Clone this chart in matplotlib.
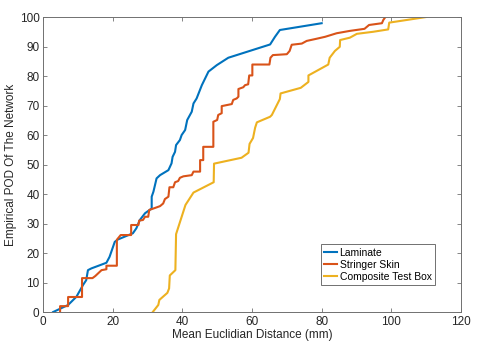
import matplotlib
matplotlib.use("Agg")
import matplotlib.pyplot as plt

plt.rcParams["font.family"] = ["Liberation Sans", "DejaVu Sans"]

# Laminate
lam_x = [2.9, 7.2, 9.6, 11.5, 12.4, 12.9, 13.9, 18.2, 19.1, 20.1, 20.6, 21.5,
         25.8, 26.8, 27.8, 29.3, 31.2, 31.2, 31.7, 32.6, 33.6, 36.0, 36.9, 37.2,
         37.9, 38.2, 39.3, 39.8, 40.8, 41.4, 42.7, 43.2, 44.1, 45.6, 47.5, 49.9,
         53.2, 65.2, 66.6, 68.0, 80.0]
lam_y = [0, 2.4, 5.2, 9.2, 10.8, 14.2, 14.8, 16.7, 18.7, 22.1, 23.8, 24.6,
         26.7, 28.4, 31.2, 33.5, 35.1, 39.1, 40.8, 45.3, 46.4, 48.1, 50.4, 52.6,
         54.3, 56.6, 58.3, 60.0, 61.7, 65.1, 67.9, 70.7, 72.4, 76.9, 81.5, 83.7,
         86.2, 90.7, 93.3, 95.6, 97.9]

# Stringer Skin
str_x = [4.9, 4.9, 7.2, 7.2, 11.2, 11.2, 14.2, 15.0, 15.9, 16.8, 18.2, 18.2,
         21.2, 21.2, 22.3, 25.3, 25.3, 27.4, 27.6, 28.7, 29.3, 30.2, 30.5, 32.2,
         33.6, 34.5, 35.0, 36.0, 36.3, 37.4, 37.9, 38.8, 39.3, 40.3, 42.7, 43.2,
         45.1, 45.1, 46.0, 46.0, 48.9, 48.9, 50.0, 50.3, 51.3, 51.3, 54.2, 54.6,
         55.6, 56.1, 56.1, 57.5, 58.0, 58.9, 59.2, 60.1, 60.1, 65.0, 65.3, 66.0,
         67.4, 70.0, 70.8, 71.4, 74.3, 75.7, 78.4, 81.0, 84.3, 88.1, 92.3, 93.6,
         97.3, 97.7, 98.3]
str_y = [0, 2.0, 2.0, 5.1, 5.1, 11.5, 11.5, 12.2, 13.2, 14.2, 14.5, 15.7,
         15.7, 24.5, 26.1, 26.1, 29.5, 29.5, 31.0, 31.2, 32.3, 32.3, 34.6, 35.3,
         35.9, 36.8, 38.3, 39.1, 42.3, 42.3, 44.0, 44.4, 45.5, 46.0, 46.4, 47.6,
         47.6, 51.5, 51.5, 56.0, 56.0, 64.5, 65.1, 66.8, 67.4, 69.8, 70.5, 71.9,
         72.4, 73.0, 75.6, 76.2, 76.9, 77.2, 80.2, 80.2, 83.9, 83.9, 86.2, 87.1,
         87.2, 87.4, 88.5, 90.6, 91.0, 91.9, 92.6, 93.3, 94.5, 95.3, 96.0, 97.3,
         97.9, 99.0, 100]

# Composite Test Box
box_x = [31.5, 33.1, 33.4, 35.7, 36.2, 36.4, 38.0, 38.2, 40.9, 43.2, 49.0,
         49.1, 57.0, 59.0, 59.3, 60.3, 60.9, 61.4, 65.2, 65.7, 68.0, 68.2, 74.0,
         76.2, 76.2, 81.9, 82.3, 83.8, 85.2, 85.3, 88.1, 90.1, 94.8, 99.1, 99.4,
         110.0]
box_y = [0, 2.4, 4.1, 6.5, 8.0, 12.4, 14.2, 26.4, 36.3, 40.5, 44.0,
         50.3, 52.3, 54.0, 57.0, 59.0, 62.5, 64.3, 66.2, 66.8, 72.2, 74.1, 76.0,
         78.0, 80.2, 83.9, 86.2, 88.5, 89.9, 92.2, 93.0, 94.3, 95.0, 95.8, 98.1,
         100]

fig = plt.figure(figsize=(4.78, 3.51), dpi=100)
ax = fig.add_axes([0.090, 0.111, 0.8744, 0.8405])

ax.plot(lam_x, lam_y, color="#0072BD", lw=1.5, label="Laminate")
ax.plot(str_x, str_y, color="#D95319", lw=1.5, label="Stringer Skin")
ax.plot(box_x, box_y, color="#EDB120", lw=1.5, label="Composite Test Box")

ax.set_xlim(0, 120)
ax.set_ylim(0, 100)
ax.set_xticks(range(0, 121, 20))
ax.set_yticks(range(0, 101, 10))
ax.tick_params(direction="in", top=True, right=True, labelsize=8.5,
               colors="#262626", length=3, width=0.6, pad=2.5)
ax.tick_params(axis="both", color="#707070")
for s in ax.spines.values():
    s.set_color("#707070")
    s.set_linewidth(0.7)

ax.set_xlabel("Mean Euclidian Distance (mm)", fontsize=8.5, color="#262626", labelpad=1)
ax.set_ylabel("Empirical POD Of The Network", fontsize=8.5, color="#262626", labelpad=2)

leg = ax.legend(loc="lower right", bbox_to_anchor=(0.937, 0.092), fontsize=7.5,
                handlelength=1.3, handletextpad=0.2, borderpad=0.3,
                labelspacing=0.2, fancybox=False, framealpha=1,
                borderaxespad=0)
leg.get_frame().set_edgecolor("#707070")
leg.get_frame().set_linewidth(0.7)

fig.savefig("out.png", dpi=100)
